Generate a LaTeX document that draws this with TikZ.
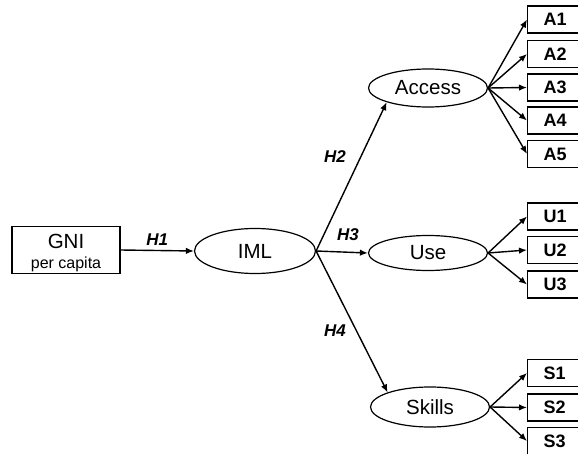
\documentclass[tikz,border=0pt]{standalone}
\usepackage{fontspec}
\setmainfont{Liberation Sans}
\usetikzlibrary{shapes.geometric,arrows.meta}
\begin{document}
\begin{tikzpicture}[x=1pt,y=-1pt,
  lat/.style={draw,ellipse,line width=1.2pt,inner sep=0pt,minimum width=119pt,minimum height=38pt,font=\fontsize{20.5}{22}\selectfont},
  ind/.style={draw,rectangle,line width=1.2pt,inner sep=0pt,minimum width=54pt,minimum height=27pt,anchor=west,font=\bfseries\fontsize{18}{20}\selectfont,text width=52pt,align=left},
  arr/.style={line width=1.4pt,-{Latex[length=8pt,width=6.5pt]}},
  hlab/.style={font=\bfseries\itshape\fontsize{17}{19}\selectfont}]
\useasboundingbox (0,0) rectangle (578,454);
\node[draw,line width=1.2pt,minimum width=108pt,minimum height=47pt,inner sep=0pt] (gni) at (66,250) {};
\node (gnit) at (66,241) {\fontsize{20.5}{22}\selectfont GNI};
\node (gnip) at (66,264) {\fontsize{16}{18}\selectfont per capita};
\node[lat,minimum width=121pt,minimum height=45pt] (iml) at (255,251) {IML};
\node[lat] (acc) at (428,88) {Access};
\node[lat,minimum height=35pt] (use) at (428,253) {Use};
\node[lat,minimum height=40pt] (sk) at (430,407) {Skills};
\foreach \n/\y in {A1/19.5,A2/54,A3/87.5,A4/120.5,A5/154}{
  \node[ind] (\n) at (527,\y) {\hspace*{15pt}\n};
  \draw[arr] (acc.east) -- (\n.west);
}
\foreach \n/\y in {U1/216.5,U2/250,U3/284.5}{
  \node[ind] (\n) at (527,\y) {\hspace*{15pt}\n};
  \draw[arr] (use.east) -- (\n.west);
}
\foreach \n/\y in {S1/373,S2/407.5,S3/441}{
  \node[ind] (\n) at (527,\y) {\hspace*{15pt}\n};
  \draw[arr] (sk.east) -- (\n.west);
}
\draw[arr] (gni.east) -- (iml.west) node[midway,above=1pt,hlab] (h1) {H1};
\draw[arr] (iml.east) -- (acc.-161);
\draw[arr] (iml.east) -- (use.west);
\draw[arr] (iml.east) -- (sk.161);
\node[hlab] (h2) at (335,157) {H2};
\node[hlab] (h3) at (348,235) {H3};
\node[hlab] (h4) at (335,331) {H4};
\end{tikzpicture}
\end{document}
